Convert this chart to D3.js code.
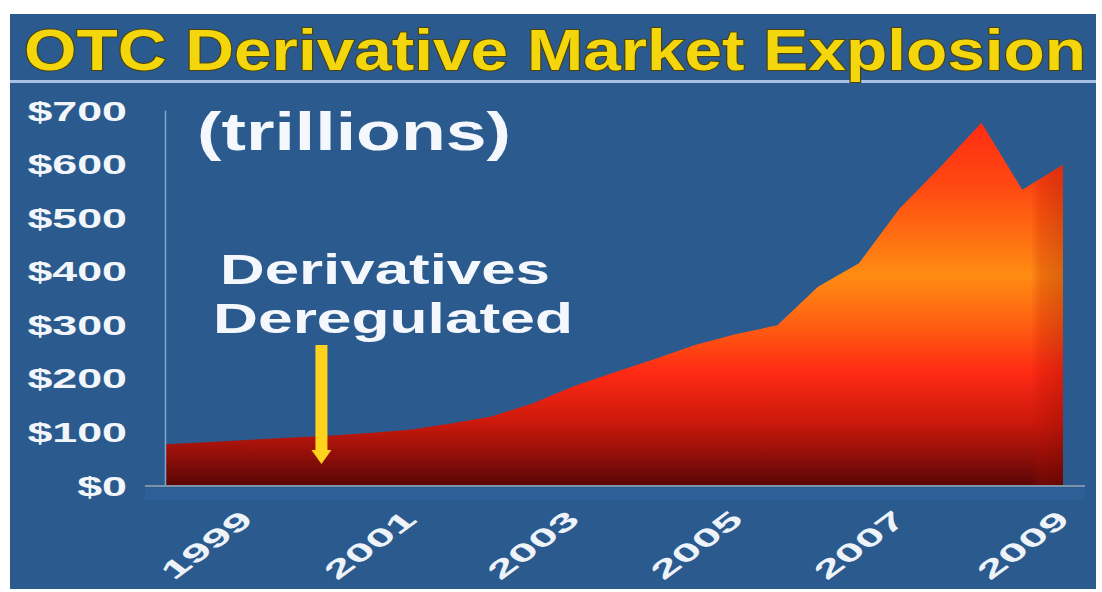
<!DOCTYPE html>
<html>
<head>
<meta charset="utf-8">
<script src="https://cdn.jsdelivr.net/npm/d3@7.9.0/dist/d3.min.js"></script>
<style>
  html, body { margin: 0; padding: 0; background: #fff; }
  svg { display: block; }
  text { font-family: "Liberation Sans", Arial, sans-serif; font-weight: bold; }
</style>
</head>
<body>
<svg id="chart" width="1102" height="592"></svg>
<script>
// semi-annual notional amounts outstanding, trillions of dollars
const periods = ['1998-06', '1998-12', '1999-06', '1999-12', '2000-06', '2000-12',
  '2001-06', '2001-12', '2002-06', '2002-12', '2003-06', '2003-12', '2004-06',
  '2004-12', '2005-06', '2005-12', '2006-06', '2006-12', '2007-06', '2007-12',
  '2008-06', '2008-12', '2009-06'];
const notional = [76, 80, 84, 88, 92, 97, 103, 115, 128, 152, 184, 210, 235,
  262, 282, 298, 370, 414, 516, 594, 676, 551, 598];
const yTicks = [0, 100, 200, 300, 400, 500, 600, 700];
const xTickYears = ['1999-06', '2001-06', '2003-06', '2005-06', '2007-06', '2009-06'];
const deregulated = '2000-05';

const parse = d3.timeParse('%Y-%m');
const data = periods.map((p, i) => ({ date: parse(p), value: notional[i] }));

const svg = d3.select('#chart');
const blue = '#2b5b8e';

// panel
svg.append('rect').attr('x', 10).attr('y', 14).attr('width', 1086).attr('height', 575).attr('fill', blue);
svg.append('rect').attr('x', 10).attr('y', 80).attr('width', 1086).attr('height', 3).attr('fill', '#a7c2e4');

// title
svg.append('text')
  .attr('x', 24).attr('y', 70)
  .attr('textLength', 1062).attr('lengthAdjust', 'spacingAndGlyphs')
  .attr('font-size', 57)
  .attr('fill', '#f4d60c')
  .attr('stroke', '#4a4210').attr('stroke-width', 2).attr('paint-order', 'stroke')
  .text('OTC Derivative Market Explosion');

const x = d3.scaleTime()
  .domain(d3.extent(data, d => d.date))
  .range([165, 1063]);
const y = d3.scaleLinear().domain([0, 700]).range([485, 110]);

// gradients
const defs = svg.append('defs');
const vg = defs.append('linearGradient').attr('id', 'fillV')
  .attr('gradientUnits', 'userSpaceOnUse')
  .attr('x1', 0).attr('x2', 0).attr('y1', y(700)).attr('y2', y(0));
[[0, '#ff2612'], [0.2, '#ff4812'], [0.44, '#ff8c12'], [0.56, '#ff6412'],
 [0.7, '#ff2a14'], [0.84, '#c8180c'], [1, '#5a0606']].forEach(([o, c]) => {
  vg.append('stop').attr('offset', o).attr('stop-color', c);
});
const hg = defs.append('linearGradient').attr('id', 'edge')
  .attr('gradientUnits', 'userSpaceOnUse')
  .attr('x1', x(parse('2008-12')) + 8).attr('x2', x(parse('2009-06'))).attr('y1', 0).attr('y2', 0);
hg.append('stop').attr('offset', 0).attr('stop-color', '#b01000').attr('stop-opacity', 0);
hg.append('stop').attr('offset', 0.3).attr('stop-color', '#b01000').attr('stop-opacity', 0.22);
hg.append('stop').attr('offset', 1).attr('stop-color', '#800800').attr('stop-opacity', 0.3);

const area = d3.area()
  .x(d => x(d.date))
  .y0(y(0))
  .y1(d => y(d.value));

svg.append('path').datum(data).attr('d', area).attr('fill', 'url(#fillV)');
svg.append('path').datum(data).attr('d', area).attr('fill', 'url(#edge)');

// band under the baseline
svg.append('rect').attr('x', 145).attr('y', 488).attr('width', 940).attr('height', 12).attr('fill', '#2e5f96');
svg.append('line')
  .attr('x1', 145).attr('x2', 1085).attr('y1', 486).attr('y2', 486)
  .attr('stroke', '#7d93ab').attr('stroke-width', 2);

// y axis
const yAxis = svg.append('g')
  .attr('transform', 'translate(165,0)')
  .call(d3.axisLeft(y).tickValues(yTicks).tickSize(0).tickFormat(d => '$' + d));
yAxis.select('.domain').attr('stroke', '#7fa6cf').attr('stroke-width', 1.5);
yAxis.selectAll('text')
  .attr('fill', '#f2f6fb')
  .attr('font-size', 28)
  .attr('x', -38 / 1.6)
  .attr('dy', '0.36em')
  .attr('transform', 'scale(1.6,1)')
  .attr('text-anchor', 'end');

// x axis
const xAxis = svg.append('g')
  .attr('transform', `translate(0,${y(0)})`)
  .call(d3.axisBottom(x).tickValues(xTickYears.map(parse)).tickSize(0).tickFormat(d3.timeFormat('%Y')));
xAxis.select('.domain').remove();
xAxis.selectAll('text')
  .attr('fill', '#eef3fa')
  .attr('font-size', 24)
  .attr('text-anchor', 'end')
  .attr('x', 0).attr('y', 0).attr('dy', 0)
  .attr('textLength', 85).attr('lengthAdjust', 'spacingAndGlyphs')
  .attr('transform', 'translate(8,36) scale(1.35,1) rotate(-45)');

// annotations
svg.append('text')
  .attr('x', 197).attr('y', 150)
  .attr('textLength', 314).attr('lengthAdjust', 'spacingAndGlyphs')
  .attr('font-size', 54).attr('fill', '#f4f7fb')
  .text('(trillions)');

svg.append('text')
  .attr('x', 220).attr('y', 284)
  .attr('textLength', 330).attr('lengthAdjust', 'spacingAndGlyphs')
  .attr('font-size', 42).attr('fill', '#f4f7fb')
  .text('Derivatives');
svg.append('text')
  .attr('x', 213).attr('y', 333)
  .attr('textLength', 360).attr('lengthAdjust', 'spacingAndGlyphs')
  .attr('font-size', 42).attr('fill', '#f4f7fb')
  .text('Deregulated');

// arrow
const ax = x(parse(deregulated));
svg.append('rect')
  .attr('x', ax - 6).attr('y', 345).attr('width', 12).attr('height', 106)
  .attr('fill', '#ffd21e');
svg.append('path')
  .attr('d', `M${ax - 10},450 L${ax + 10},450 L${ax},464 Z`)
  .attr('fill', '#ffd21e');
</script>
</body>
</html>
